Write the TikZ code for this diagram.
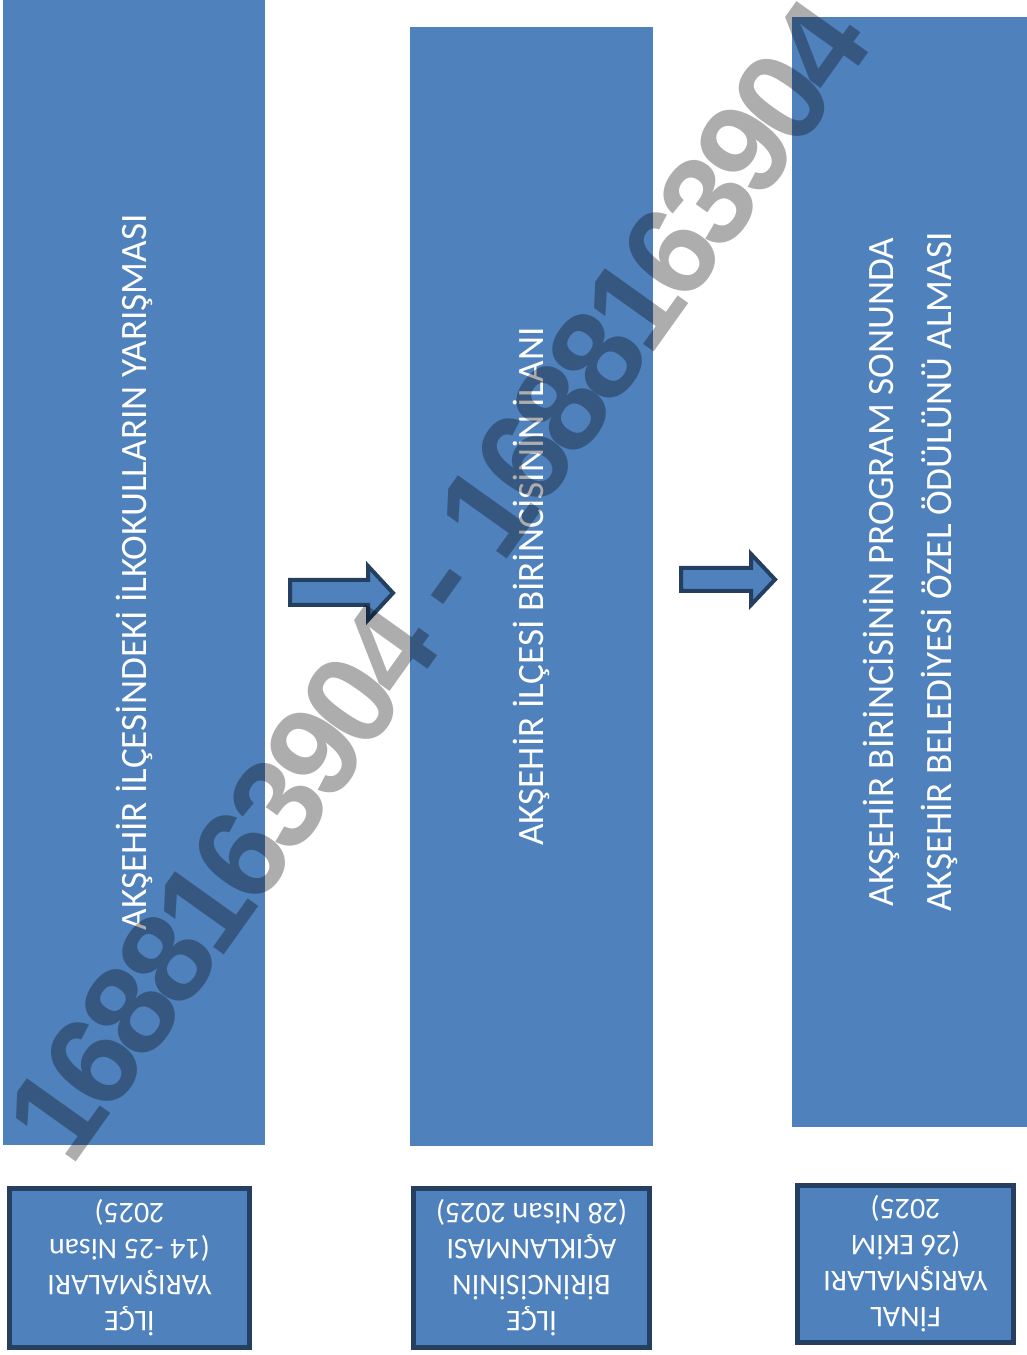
\documentclass[tikz,border=0pt]{standalone}
\usepackage{fontspec}
\setmainfont{Carlito}
\newfontfamily\wmfont[LetterSpace=-6]{Liberation Sans}
\usepackage{tikz}
\definecolor{stepblue}{HTML}{4F81BD}
\definecolor{stepborder}{HTML}{243F60}
\tikzstyle{column}=[rectangle,fill=stepblue,inner sep=0pt]
\tikzstyle{coltext}=[text=white,rotate=90,align=center,inner sep=0pt,
  			  font=\fontsize{37.2}{58}\selectfont]
\tikzstyle{datebox}=[rectangle,draw=stepborder,line width=5pt,fill=stepblue,
  			  text=white,align=center,rotate=180,inner sep=0pt,
  			  font=\fontsize{30}{36}\selectfont]
\tikzstyle{blockarrow}=[draw=stepborder,line width=4pt,fill=stepblue]
\tikzstyle{watermark}=[rotate=54.5,text=black,text opacity=0.32,inner sep=0pt,
  			  font=\wmfont\bfseries\fontsize{128}{128}\selectfont]

\begin{document}
\begin{tikzpicture}[x=1pt,y=1pt]
	\useasboundingbox (0,0) rectangle (1027,1355);

	% columns
	\node[column,minimum width=262pt,minimum height=1145pt] (c1) at (134,782.5) {};
	\node[column,minimum width=243pt,minimum height=1119pt] (c2) at (531.5,768.5) {};
	\node[column,minimum width=236pt,minimum height=1110pt] (c3) at (910,783) {};

	\node[coltext] (t1) at (c1) {AKŞEHİR İLÇESİNDEKİ İLKOKULLARIN YARIŞMASI};
	\node[coltext] (t2) at (c2) {AKŞEHİR İLÇESİ BİRİNCİSİNİN İLANI};
	\node[coltext] (t3) at (c3) {AKŞEHİR BİRİNCİSİNİN PROGRAM SONUNDA\\
	  AKŞEHİR BELEDİYESİ ÖZEL ÖDÜLÜNÜ ALMASI};

	% arrows
	\draw[blockarrow] (290,750) -- (368,750) -- (368,735) -- (393,762)
		-- (368,789) -- (368,775) -- (290,775) -- cycle;
	\draw[blockarrow] (681,764) -- (751,764) -- (751,750) -- (775,775.5)
		-- (751,801) -- (751,787) -- (681,787) -- cycle;

	% dates
	\node[datebox,minimum width=240pt,minimum height=159pt] (d1) at (129.5,87)
		{İLÇE\\YARIŞMALARI\\(14 -25 Nisan\\2025)};
	\node[datebox,minimum width=236pt,minimum height=159pt] (d2) at (531.5,87)
		{İLÇE\\BİRİNCİSİNİN\\AÇIKLANMASI\\(28 Nisan 2025)};
	\node[datebox,minimum width=216pt,minimum height=157pt] (d3) at (905.5,91)
		{FİNAL\\YARIŞMALARI\\(26 EKİM\\2025)};

	\begin{scope}
		\clip (0,0) rectangle (1027,1355);
		\node[watermark] (wm) at (438,775) {1688163904 - 1688163904};
	\end{scope}
\end{tikzpicture}
\end{document}
